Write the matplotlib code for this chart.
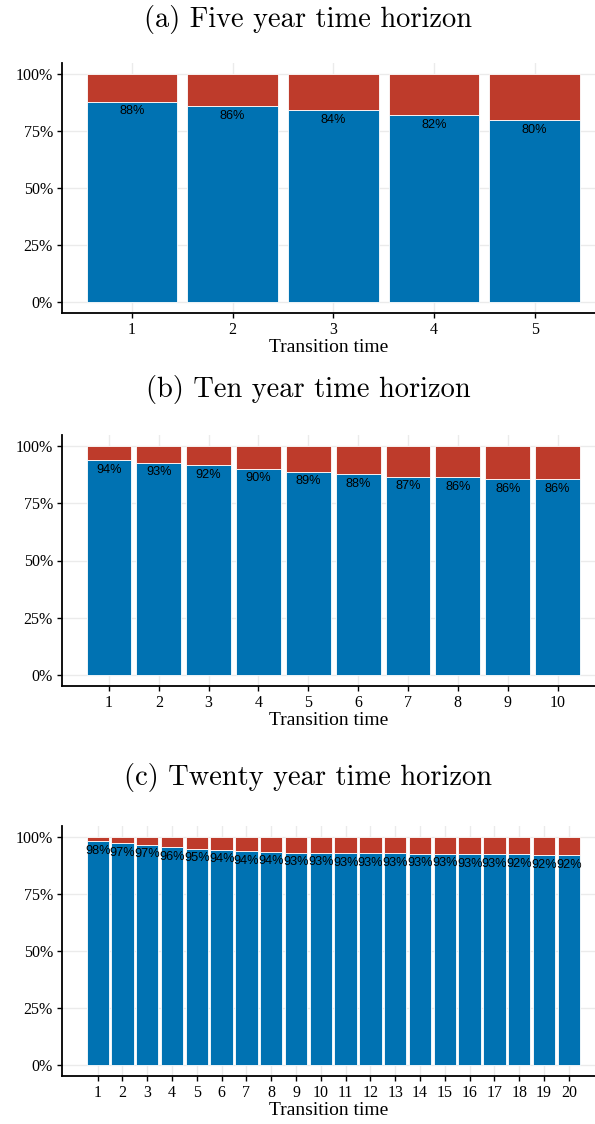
import numpy as np
import matplotlib
matplotlib.use("Agg")
import matplotlib.pyplot as plt

# share of observations that stay (blue) at each transition time, in percent
five_year = [87.9, 86.0, 84.1, 82.0, 79.8]
ten_year = [94.0, 92.8, 91.6, 90.1, 88.8, 87.6, 86.6, 86.3, 85.7, 85.6]
twenty_year = [98.1, 97.2, 96.6, 95.7, 94.9, 94.4, 93.8, 93.6, 93.2, 93.1,
               92.9, 92.8, 92.8, 92.7, 92.7, 92.6, 92.6, 92.4, 92.2, 92.1]

titles = ["(a) Five year time horizon",
          "(b) Ten year time horizon",
          "(c) Twenty year time horizon"]
y_ticks = [0, 25, 50, 75, 100]
y_ticklabels = ["0%", "25%", "50%", "75%", "100%"]

BLUE = "#0072B2"
RED = "#BE3B2B"
GRID = "#EBEBEB"

W, H = 595, 1124
fig = plt.figure(figsize=(W / 100, H / 100), dpi=100)

# pixel layout of each panel: (title y, axes top, axes bottom)
panels = [(19, 62.6, 313.4), (389, 434.6, 686.4), (778, 825.6, 1076.4)]
ax_left, ax_right = 62, 595
bar_lo, bar_hi = 86.5, 580

for vals, title, (ty, top, bottom) in zip([five_year, ten_year, twenty_year], titles, panels):
    n = len(vals)
    x = np.arange(1, n + 1)
    vals = np.array(vals)

    ax = fig.add_axes([ax_left / W, 1 - bottom / H, (ax_right - ax_left) / W, (bottom - top) / H])
    unit = (bar_hi - bar_lo) / (n - 0.1)
    ax.set_xlim(0.55 - (bar_lo - ax_left) / unit, n + 0.45 + (ax_right - bar_hi) / unit)
    ax.set_ylim(-5, 105)

    ax.bar(x, vals, width=0.9, color=BLUE, edgecolor="white", linewidth=0.6, zorder=2)
    ax.bar(x, 100 - vals, bottom=vals, width=0.9, color=RED, edgecolor="white", linewidth=0.6, zorder=2)

    for xi, v in zip(x, vals):
        ax.annotate(f"{v:.0f}%", (xi, v), xytext=(0, -7), textcoords="offset points",
                    ha="center", va="center", fontsize=9.2, family="Liberation Sans", zorder=3)

    ax.set_xticks(x)
    ax.set_xticklabels([str(i) for i in x], family="Liberation Serif", fontsize=11.5)
    ax.set_yticks(y_ticks)
    ax.set_yticklabels(y_ticklabels, family="Liberation Serif", fontsize=11.5)
    ax.grid(True, color=GRID, linewidth=1.0, zorder=0)
    ax.set_axisbelow(True)
    for s in ["top", "right"]:
        ax.spines[s].set_visible(False)
    for s in ["left", "bottom"]:
        ax.spines[s].set_linewidth(1.3)
    ax.tick_params(length=3.5, width=1.0, direction="out", pad=3)
    ax.set_xlabel("Transition time", family="Liberation Serif", fontsize=14, labelpad=0.5)

    fig.text(308 / W, 1 - ty / H, title, ha="center", va="center", family="cmr10", fontsize=20.5)

fig.savefig("out.png", dpi=100)
